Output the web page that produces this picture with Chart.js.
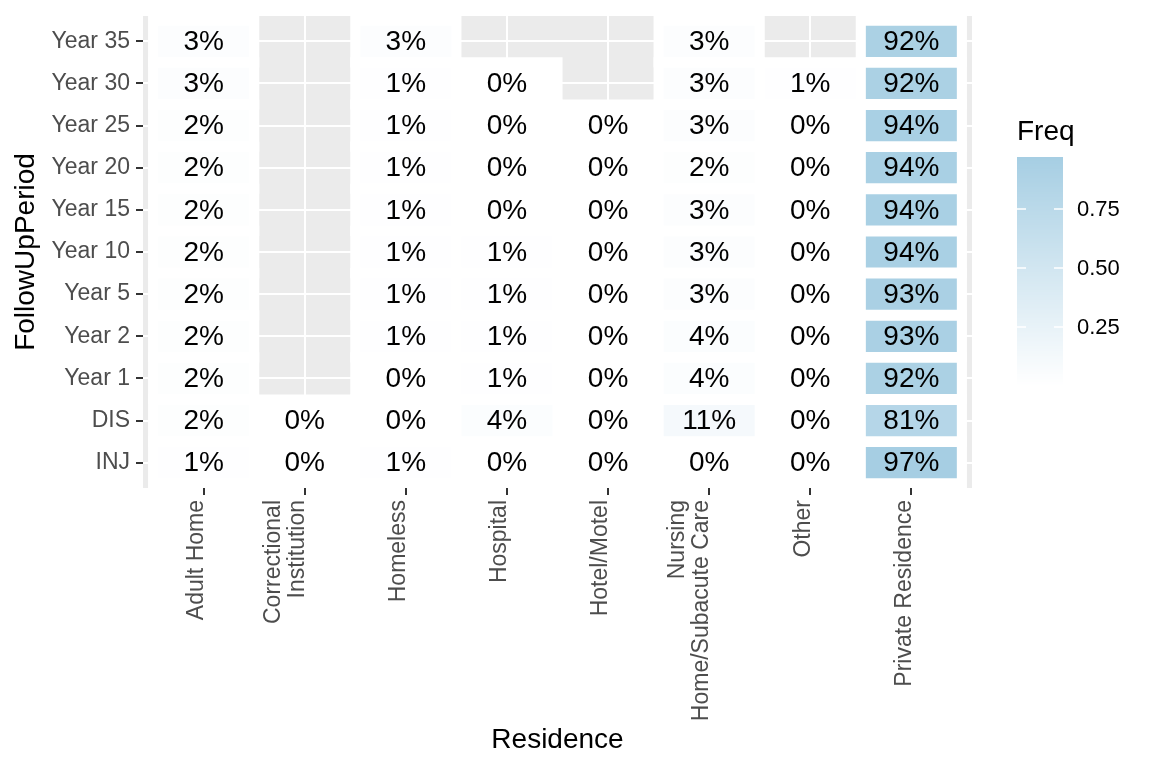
<!DOCTYPE html>
<html>
<head>
<meta charset="utf-8">
<script src="https://cdn.jsdelivr.net/npm/chart.js@4/dist/chart.umd.min.js"></script>
<style>
  html, body { margin: 0; padding: 0; background: #fff; }
  #wrap { width: 1152px; height: 768px; }
</style>
</head>
<body>
<div id="wrap"><canvas id="heat"></canvas></div>
<script>
// Residence categories (x) and follow-up periods (y, bottom to top)
const residences = [
    'Adult Home',
    ['Correctional', 'Institution'],
    'Homeless',
    'Hospital',
    'Hotel/Motel',
    ['Nursing', 'Home/Subacute Care'],
    'Other',
    'Private Residence'
];
const periods = ['INJ', 'DIS', 'Year 1', 'Year 2', 'Year 5', 'Year 10', 'Year 15', 'Year 20', 'Year 25', 'Year 30', 'Year 35'];

// percentages per period, one value per residence (null = no tile)
const pctINJ    = [1, 0, 1, 0, 0, 0, 0, 97];
const pctDIS    = [2, 0, 0, 4, 0, 11, 0, 81];
const pctYear1  = [2, null, 0, 1, 0, 4, 0, 92];
const pctYear2  = [2, null, 1, 1, 0, 4, 0, 93];
const pctYear5  = [2, null, 1, 1, 0, 3, 0, 93];
const pctYear10 = [2, null, 1, 1, 0, 3, 0, 94];
const pctYear15 = [2, null, 1, 0, 0, 3, 0, 94];
const pctYear20 = [2, null, 1, 0, 0, 2, 0, 94];
const pctYear25 = [2, null, 1, 0, 0, 3, 0, 94];
const pctYear30 = [3, null, 1, 0, null, 3, 1, 92];
const pctYear35 = [3, null, 3, null, null, 3, null, 92];
const pctRows = [pctINJ, pctDIS, pctYear1, pctYear2, pctYear5, pctYear10, pctYear15, pctYear20, pctYear25, pctYear30, pctYear35];

const legendTicks = [0.25, 0.50, 0.75];

const LOW = [255, 255, 255];
const HIGH = [166, 206, 227];
const maxFreq = Math.max(...pctRows.flat().filter(v => v !== null)) / 100;

function fillFor(freq) {
    const t = Math.max(0, Math.min(1, freq / maxFreq));
    const c = LOW.map((l, i) => Math.round(l + (HIGH[i] - l) * t));
    return `rgb(${c[0]}, ${c[1]}, ${c[2]})`;
}

// build tile points
const tiles = [];
pctRows.forEach((row, r) => {
    row.forEach((v, c) => {
        if (v === null) return;
        tiles.push({ x: c, row: r, pct: v });
    });
});

const fillPoints = tiles.map(t => ({ x: t.x, y: [t.row - 0.37, t.row + 0.37], pct: t.pct }));
const borderPoints = tiles.map(t => ({ x: t.x, y: [t.row - 0.62, t.row + 0.62] }));

const FONT = '"Liberation Sans", Arial, sans-serif';

const panelBackground = {
    id: 'panelBackground',
    beforeDraw(chart) {
        const { ctx, chartArea } = chart;
        ctx.save();
        ctx.fillStyle = '#ffffff';
        ctx.fillRect(0, 0, chart.width, chart.height);
        ctx.fillStyle = '#EBEBEB';
        ctx.fillRect(chartArea.left, chartArea.top, chartArea.right - chartArea.left, chartArea.bottom - chartArea.top);
        ctx.restore();
    }
};

const tileLabels = {
    id: 'tileLabels',
    afterDatasetsDraw(chart) {
        const { ctx } = chart;
        const meta = chart.getDatasetMeta(0);
        ctx.save();
        ctx.font = '28px ' + FONT;
        ctx.fillStyle = '#000000';
        ctx.textAlign = 'center';
        ctx.textBaseline = 'middle';
        meta.data.forEach((bar, i) => {
            const p = fillPoints[i];
            const yMid = chart.scales.y.getPixelForValue((p.y[0] + p.y[1]) / 2);
            ctx.fillText(p.pct + '%', bar.x, yMid + 1);
        });
        ctx.restore();
    }
};

// rotated residence labels, last line sits just left of the tick
const xLabels = {
    id: 'xLabels',
    afterDraw(chart) {
        const { ctx } = chart;
        const xs = chart.scales.x;
        const top = xs.top + 12;
        const lineGap = 24;
        ctx.save();
        ctx.font = '23px ' + FONT;
        ctx.fillStyle = '#4D4D4D';
        ctx.textAlign = 'right';
        ctx.textBaseline = 'middle';
        residences.forEach((lab, i) => {
            const lines = Array.isArray(lab) ? lab : [lab];
            const px = xs.getPixelForValue(i);
            lines.forEach((line, k) => {
                const cx = px - 7 - (lines.length - 1 - k) * lineGap;
                ctx.save();
                ctx.translate(cx, top);
                ctx.rotate(-Math.PI / 2);
                ctx.fillText(line, 0, 0);
                ctx.restore();
            });
        });
        ctx.restore();
    }
};

const colourBar = {
    id: 'colourBar',
    afterDraw(chart) {
        const { ctx } = chart;
        const x0 = 1017, w = 46;
        const yZero = 386, perUnit = 236;
        const yTop = yZero - maxFreq * perUnit;
        ctx.save();
        ctx.font = '28px ' + FONT;
        ctx.fillStyle = '#000000';
        ctx.textAlign = 'left';
        ctx.textBaseline = 'alphabetic';
        ctx.fillText('Freq', x0, 140);
        for (let y = Math.floor(yTop); y < yZero; y++) {
            const f = (yZero - y - 0.5) / perUnit;
            ctx.fillStyle = fillFor(f);
            ctx.fillRect(x0, y, w, 1);
        }
        ctx.strokeStyle = '#ffffff';
        ctx.lineWidth = 1.5;
        ctx.font = '22px ' + FONT;
        ctx.textBaseline = 'middle';
        legendTicks.forEach(v => {
            const y = yZero - v * perUnit;
            ctx.beginPath();
            ctx.moveTo(x0, y); ctx.lineTo(x0 + 9, y);
            ctx.moveTo(x0 + w - 9, y); ctx.lineTo(x0 + w, y);
            ctx.stroke();
            ctx.fillStyle = '#000000';
            ctx.fillText(v.toFixed(2), x0 + 60, y + 1);
        });
        ctx.restore();
    }
};

const tickFont = { family: FONT, size: 23 };
const titleFont = { family: FONT, size: 28 };

new Chart(document.getElementById('heat'), {
    type: 'bar',
    data: {
        datasets: [
            {
                label: 'Freq',
                data: fillPoints,
                backgroundColor: ctx => fillFor((ctx.raw ? ctx.raw.pct : 0) / 100),
                borderWidth: 0,
                grouped: false,
                barPercentage: 0.9,
                categoryPercentage: 1,
                order: 0
            },
            {
                label: 'border',
                data: borderPoints,
                backgroundColor: '#ffffff',
                borderWidth: 0,
                grouped: false,
                barPercentage: 1.1,
                categoryPercentage: 1,
                order: 1
            }
        ]
    },
    options: {
        responsive: true,
        maintainAspectRatio: false,
        animation: false,
        layout: { padding: { left: 5, top: 16, right: 180, bottom: 5 } },
        plugins: {
            legend: { display: false },
            tooltip: { enabled: false }
        },
        scales: {
            x: {
                type: 'linear',
                offset: false,
                min: -0.6,
                max: residences.length - 1 + 0.6,
                afterBuildTicks: s => { s.ticks = residences.map((_, i) => ({ value: i })); },
                afterFit: s => { s.height = 275; s.paddingLeft = 0; s.paddingRight = 0; },
                grid: { offset: false, color: '#ffffff', lineWidth: 2, tickColor: '#333333', tickWidth: 2, tickLength: 7 },
                border: { display: false },
                ticks: { autoSkip: false, display: false },
                title: { display: true, text: 'Residence', color: '#000000', font: titleFont, padding: { top: 0, bottom: 6 } }
            },
            y: {
                type: 'linear',
                min: -0.6,
                max: periods.length - 1 + 0.6,
                afterBuildTicks: s => { s.ticks = periods.map((_, i) => ({ value: i })); },
                afterFit: s => { s.width = 138; s.paddingTop = 0; s.paddingBottom = 0; },
                grid: { color: '#ffffff', lineWidth: 2, tickColor: '#333333', tickWidth: 2, tickLength: 7 },
                border: { display: false },
                ticks: {
                    autoSkip: false,
                    padding: 6,
                    color: '#4D4D4D',
                    font: tickFont,
                    callback: v => periods[v]
                },
                title: { display: true, text: 'FollowUpPeriod', color: '#000000', font: titleFont, padding: { top: 4, bottom: 0 } }
            }
        }
    },
    plugins: [panelBackground, tileLabels, xLabels, colourBar]
});
</script>
</body>
</html>
